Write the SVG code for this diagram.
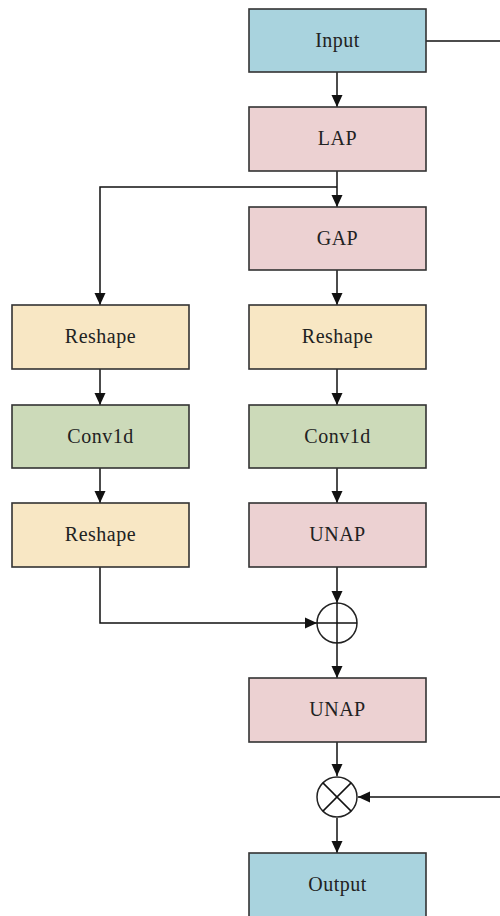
<svg xmlns="http://www.w3.org/2000/svg" width="500" height="916" viewBox="0 0 500 916">
  <style>
    .box { stroke: #333; stroke-width: 1.6; }
    .blue { fill: #a9d3de; }
    .pink { fill: #ecd1d2; }
    .tan { fill: #f8e7c4; }
    .green { fill: #ccdab9; }
    .lbl { font-family: "Liberation Serif", "Times New Roman", serif; font-size: 20px; letter-spacing: 0.5px; fill: #222; text-anchor: middle; dominant-baseline: central; }
    .wire { fill: none; stroke: #111; stroke-width: 1.5; }
    .op { fill: #fff; stroke: #222; stroke-width: 1.5; }
  </style>
  <defs>
    <marker id="arr" viewBox="0 0 12 12" refX="12" refY="6" markerWidth="12" markerHeight="12" markerUnits="userSpaceOnUse" orient="auto">
      <path d="M0,0.5 L12,6 L0,11.5 z" fill="#111"/>
    </marker>
  </defs>

  <g id="connectors">
    <line class="wire" x1="426" y1="41" x2="500" y2="41"/>
    <line class="wire" x1="337" y1="72" x2="337" y2="107" marker-end="url(#arr)"/>
    <line class="wire" x1="337" y1="171" x2="337" y2="207" marker-end="url(#arr)"/>
    <polyline class="wire" points="337,187 100,187 100,305" marker-end="url(#arr)"/>
    <line class="wire" x1="337" y1="270" x2="337" y2="305" marker-end="url(#arr)"/>
    <line class="wire" x1="337" y1="369" x2="337" y2="405" marker-end="url(#arr)"/>
    <line class="wire" x1="337" y1="468" x2="337" y2="503" marker-end="url(#arr)"/>
    <line class="wire" x1="100" y1="369" x2="100" y2="405" marker-end="url(#arr)"/>
    <line class="wire" x1="100" y1="468" x2="100" y2="503" marker-end="url(#arr)"/>
    <line class="wire" x1="337" y1="567" x2="337" y2="603" marker-end="url(#arr)"/>
    <polyline class="wire" points="100,567 100,623 317,623" marker-end="url(#arr)"/>
    <line class="wire" x1="337" y1="643" x2="337" y2="678" marker-end="url(#arr)"/>
    <line class="wire" x1="337" y1="742" x2="337" y2="776" marker-end="url(#arr)"/>
    <line class="wire" x1="500" y1="797" x2="358" y2="797" marker-end="url(#arr)"/>
    <line class="wire" x1="337" y1="818" x2="337" y2="853" marker-end="url(#arr)"/>
  </g>

  <g id="input"><rect class="box blue" x="249" y="9" width="177" height="63"/><text class="lbl" x="337.5" y="40">Input</text></g>
  <g id="lap"><rect class="box pink" x="249" y="107" width="177" height="64"/><text class="lbl" x="337.5" y="138">LAP</text></g>
  <g id="gap"><rect class="box pink" x="249" y="207" width="177" height="63"/><text class="lbl" x="337.5" y="238">GAP</text></g>
  <g id="reshape-left-1"><rect class="box tan" x="12" y="305" width="177" height="64"/><text class="lbl" x="100.5" y="336">Reshape</text></g>
  <g id="reshape-right"><rect class="box tan" x="249" y="305" width="177" height="64"/><text class="lbl" x="337.5" y="336">Reshape</text></g>
  <g id="conv1d-left"><rect class="box green" x="12" y="405" width="177" height="63"/><text class="lbl" x="100.5" y="436">Conv1d</text></g>
  <g id="conv1d-right"><rect class="box green" x="249" y="405" width="177" height="63"/><text class="lbl" x="337.5" y="436">Conv1d</text></g>
  <g id="reshape-left-2"><rect class="box tan" x="12" y="503" width="177" height="64"/><text class="lbl" x="100.5" y="534">Reshape</text></g>
  <g id="unap-1"><rect class="box pink" x="249" y="503" width="177" height="64"/><text class="lbl" x="337.5" y="534">UNAP</text></g>
  <g id="add">
    <circle class="op" cx="337" cy="623" r="20"/>
    <line class="wire" x1="317" y1="623" x2="357" y2="623"/>
    <line class="wire" x1="337" y1="603" x2="337" y2="643"/>
  </g>
  <g id="unap-2"><rect class="box pink" x="249" y="678" width="177" height="64"/><text class="lbl" x="337.5" y="709">UNAP</text></g>
  <g id="multiply">
    <circle class="op" cx="337" cy="797" r="20"/>
    <line class="wire" x1="322.9" y1="782.9" x2="351.1" y2="811.1"/>
    <line class="wire" x1="351.1" y1="782.9" x2="322.9" y2="811.1"/>
  </g>
  <g id="output"><rect class="box blue" x="249" y="853" width="177" height="70"/><text class="lbl" x="337.5" y="884">Output</text></g>
</svg>
